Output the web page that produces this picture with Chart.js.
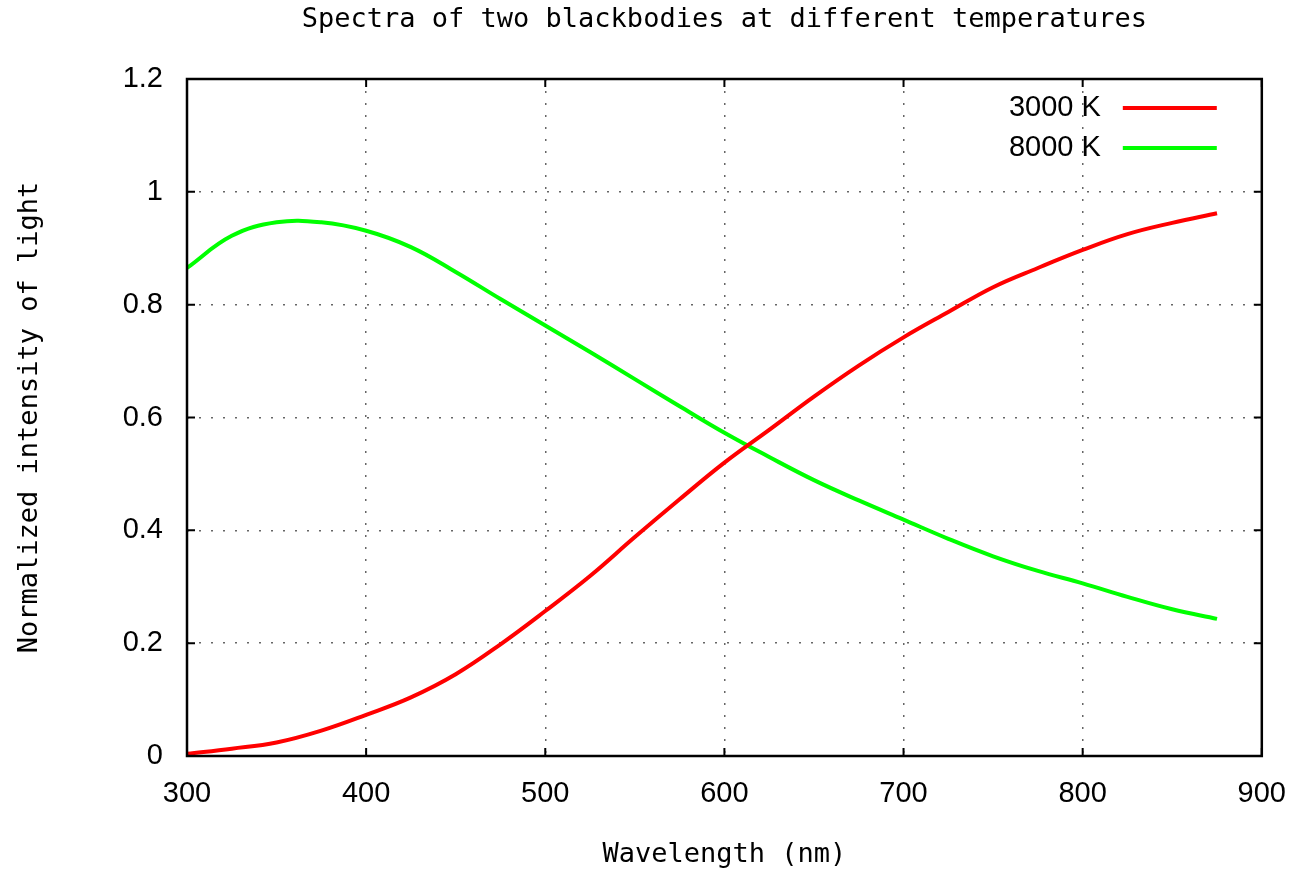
<!DOCTYPE html>
<html lang="en">
<head>
    <meta charset="UTF-8">
    <title>Spectra of two blackbodies</title>
    <script src="https://cdn.jsdelivr.net/npm/chart.js"></script>
    <style>
        body { margin: 0; background: #fff; }
        .wrap { width: 1307px; height: 872px; }
    </style>
</head>
<body>
    <div class="wrap">
        <canvas id="myChart" width="1307" height="872"></canvas>
    </div>
<script>
    // wavelength in nm
    const wavelengths = [300, 325, 350, 375, 400, 425, 450, 475, 500, 525, 550, 575, 600, 625, 650, 675, 700, 725, 750, 775, 800, 825, 850, 875];
    const k3000 = [0.004, 0.013, 0.024, 0.045, 0.073, 0.104, 0.145, 0.198, 0.257, 0.319, 0.388, 0.455, 0.520, 0.578, 0.637, 0.692, 0.742, 0.787, 0.831, 0.865, 0.897, 0.925, 0.945, 0.962];
    const k8000 = [0.865, 0.922, 0.946, 0.946, 0.931, 0.902, 0.858, 0.810, 0.763, 0.716, 0.668, 0.620, 0.573, 0.530, 0.489, 0.453, 0.419, 0.385, 0.354, 0.328, 0.306, 0.282, 0.260, 0.243];
    const xTicks = [300, 400, 500, 600, 700, 800, 900];
    const yTicks = [0, 0.2, 0.4, 0.6, 0.8, 1, 1.2];
    const yTickLabels = ['0', '0.2', '0.4', '0.6', '0.8', '1', '1.2'];

    const toPoints = (ys) => wavelengths.map((x, i) => ({x: x, y: ys[i]}));

    // gnuplot style frame, inward ticks on all sides and the key inside the plot
    const gnuFrame = {
        id: 'gnuFrame',
        afterDraw(chart) {
            const {ctx, chartArea: a, scales} = chart;
            ctx.save();
            ctx.strokeStyle = '#000';
            ctx.lineWidth = 2;
            xTicks.forEach(v => {
                const px = scales.x.getPixelForValue(v);
                ctx.beginPath();
                ctx.moveTo(px, a.bottom); ctx.lineTo(px, a.bottom - 8);
                ctx.moveTo(px, a.top); ctx.lineTo(px, a.top + 8);
                ctx.stroke();
            });
            yTicks.forEach(v => {
                const py = scales.y.getPixelForValue(v);
                ctx.beginPath();
                ctx.moveTo(a.left, py); ctx.lineTo(a.left + 8, py);
                ctx.moveTo(a.right, py); ctx.lineTo(a.right - 8, py);
                ctx.stroke();
            });
            ctx.lineWidth = 2.5;
            ctx.strokeRect(a.left, a.top, a.right - a.left, a.bottom - a.top);

            // key
            ctx.font = '29px "Liberation Sans"';
            ctx.textAlign = 'right';
            ctx.textBaseline = 'middle';
            chart.data.datasets.forEach((ds, i) => {
                const y = a.top + 29 + i * 40;
                ctx.fillStyle = '#000';
                ctx.fillText(ds.label, a.right - 161, y);
                ctx.strokeStyle = ds.borderColor;
                ctx.lineWidth = 4;
                ctx.beginPath();
                ctx.moveTo(a.right - 139, y);
                ctx.lineTo(a.right - 45, y);
                ctx.stroke();
            });
            ctx.restore();
        }
    };

    const ctx = document.querySelector('#myChart');
    const myChart = new Chart(ctx, {
        type: 'line',
        data: {
            datasets: [{
                label: '3000 K',
                data: toPoints(k3000),
                borderColor: '#ff0000',
                borderWidth: 4,
                pointRadius: 0,
                tension: 0.4
            }, {
                label: '8000 K',
                data: toPoints(k8000),
                borderColor: '#00ff00',
                borderWidth: 4,
                pointRadius: 0,
                tension: 0.4
            }]
        },
        options: {
            responsive: false,
            animation: false,
            devicePixelRatio: 1,
            layout: { padding: { left: 0, right: 41, top: 0, bottom: 0 } },
            plugins: {
                legend: { display: false },
                tooltip: { enabled: false },
                title: {
                    display: true,
                    fullSize: false,
                    text: 'Spectra of two blackbodies at different temperatures',
                    color: '#000',
                    font: { family: '"DejaVu Sans Mono"', size: 27, weight: 'normal', lineHeight: 1.2 },
                    padding: { top: 4, bottom: 42.6 }
                }
            },
            scales: {
                x: {
                    type: 'linear',
                    min: 300,
                    max: 900,
                    afterBuildTicks: (s) => { s.ticks = xTicks.map(v => ({value: v})); },
                    afterFit: (s) => { s.height = 116; },
                    ticks: {
                        color: '#000',
                        padding: 21,
                        maxRotation: 0,
                        font: { family: '"Liberation Sans"', size: 29 },
                        callback: (v) => String(v)
                    },
                    grid: { color: '#666', lineWidth: 1.5, drawTicks: false },
                    border: { display: false, dash: [2, 10] },
                    title: {
                        display: true,
                        text: 'Wavelength (nm)',
                        color: '#000',
                        font: { family: '"DejaVu Sans Mono"', size: 27, lineHeight: 1.2 },
                        padding: { top: 0, bottom: 1 }
                    }
                },
                y: {
                    min: 0,
                    max: 1.2,
                    afterBuildTicks: (s) => { s.ticks = yTicks.map(v => ({value: v})); },
                    afterFit: (s) => { s.width = 187; },
                    ticks: {
                        color: '#000',
                        padding: 24,
                        font: { family: '"Liberation Sans"', size: 29 },
                        callback: (v) => yTickLabels[yTicks.indexOf(v)] ?? String(v)
                    },
                    grid: { color: '#666', lineWidth: 1.5, drawTicks: false },
                    border: { display: false, dash: [2, 10] },
                    title: {
                        display: true,
                        text: 'Normalized intensity of light',
                        color: '#000',
                        font: { family: '"DejaVu Sans Mono"', size: 27, lineHeight: 1.2 },
                        padding: { top: 14, bottom: 0 }
                    }
                }
            }
        },
        plugins: [gnuFrame]
    });
</script>
</body>
</html>
